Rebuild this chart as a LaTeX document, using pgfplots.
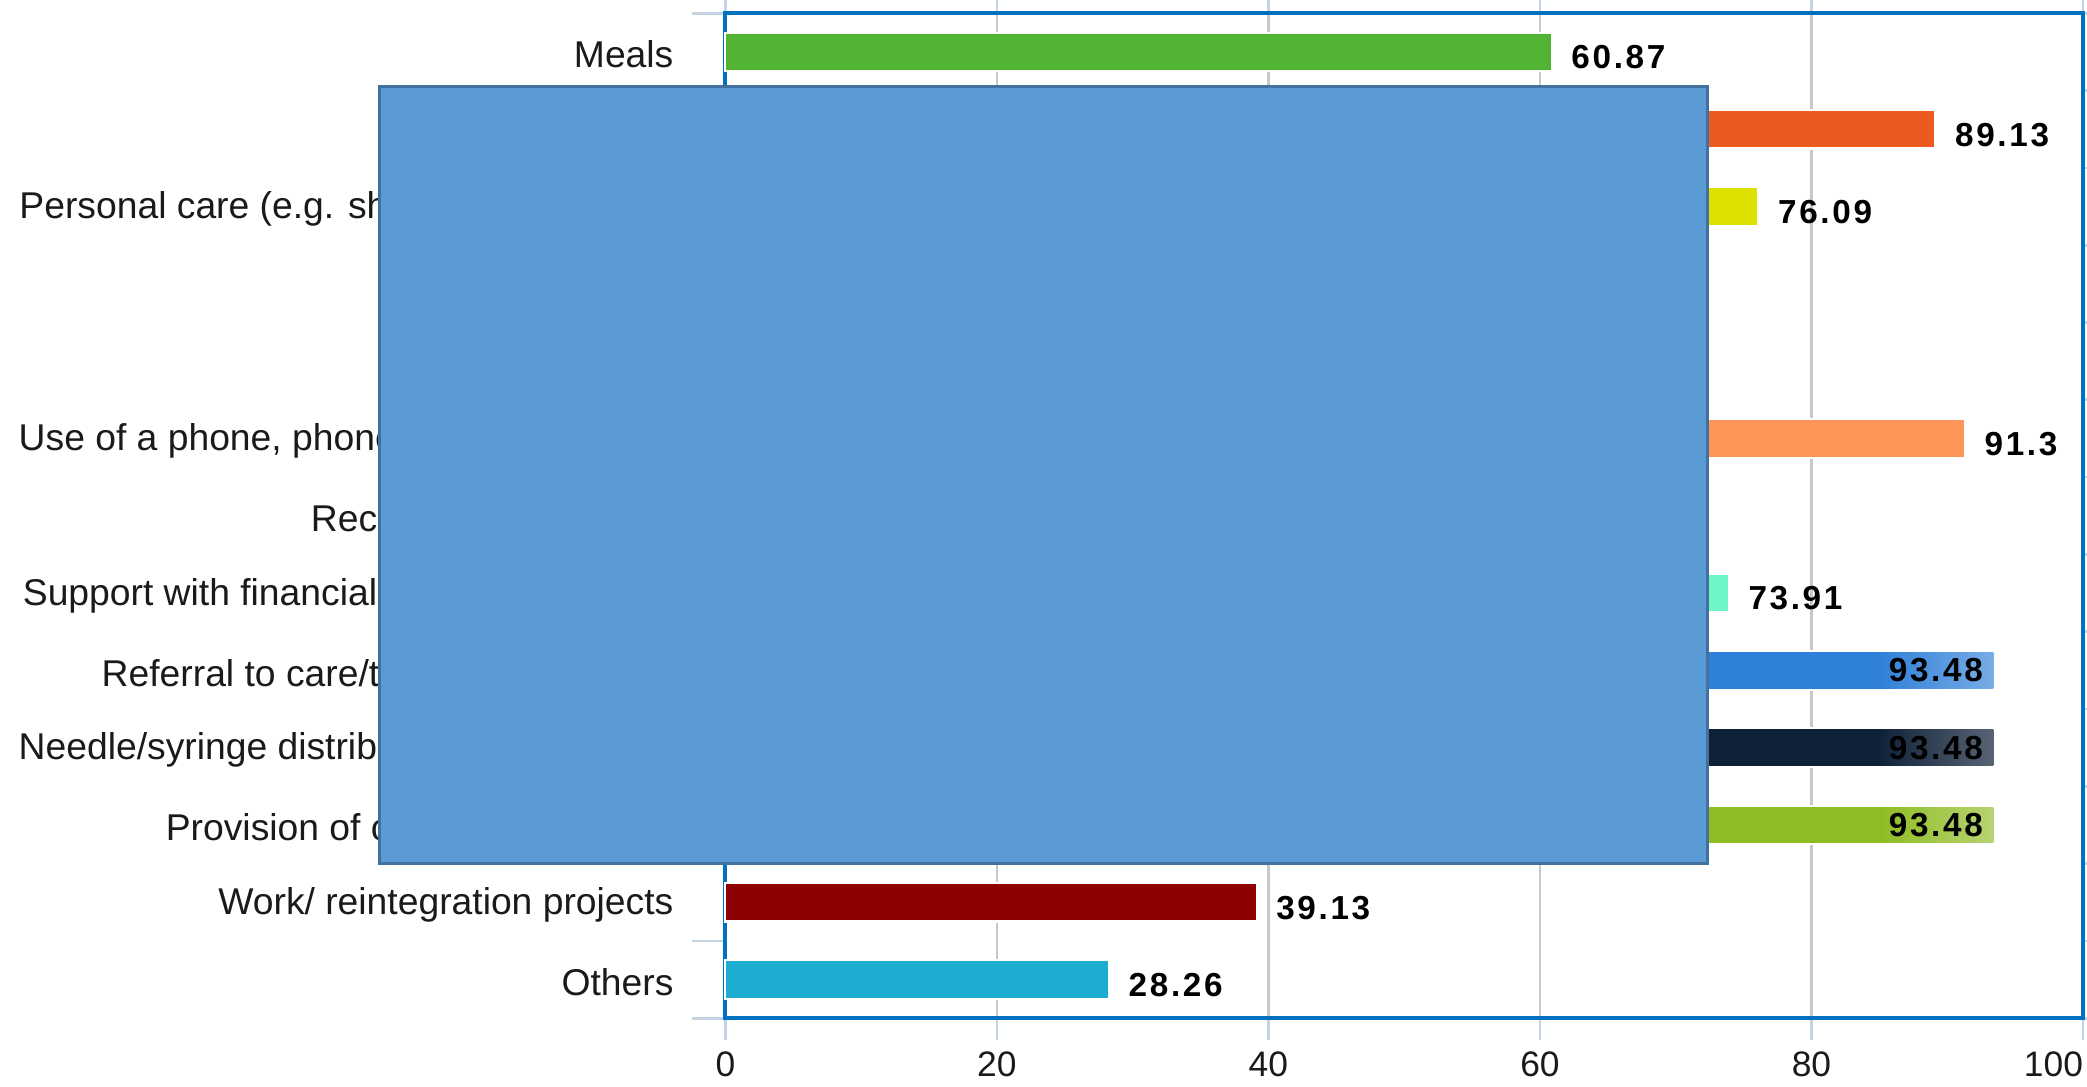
\documentclass[border=0pt]{standalone}
\usepackage{pgfplots}
\pgfplotsset{compat=1.18}
\usepackage{fontspec}
\setmainfont{Liberation Sans}
\newfontfamily\valfont{Liberation Sans}[LetterSpace=8]
\definecolor{frameblue}{HTML}{0070C0}
\definecolor{gridgray}{HTML}{C8C8C8}
\definecolor{tickblue}{HTML}{C3D3E4}
\definecolor{labelblack}{HTML}{1A1A1A}
\definecolor{rectblue}{HTML}{5B9BD5}
\definecolor{rectedge}{HTML}{41719C}
\definecolor{cA}{HTML}{52B435}
\definecolor{cB}{HTML}{EB5A1E}
\definecolor{cC}{HTML}{DEE000}
\definecolor{cD}{HTML}{7F7F7F}
\definecolor{cE}{HTML}{A05AC8}
\definecolor{cF}{HTML}{FF9558}
\definecolor{cG}{HTML}{C0504D}
\definecolor{cH}{HTML}{6EF5C8}
\definecolor{cI}{HTML}{2F80D8}
\definecolor{cJ}{HTML}{0F2138}
\definecolor{cK}{HTML}{8FBC24}
\definecolor{cL}{HTML}{8F0000}
\definecolor{cM}{HTML}{1DADD0}
\begin{document}
\begin{tikzpicture}
\begin{axis}[
  scale only axis, width=510pt, height=377.5pt,
  xmin=0, xmax=100, ymin=-0.5, ymax=12.5, y dir=reverse,
  xbar, bar width=14.5pt, bar shift=0pt,
  axis line style={draw=frameblue, line width=1.5pt},
  xmajorgrids, grid style={draw=gridgray, line width=1pt},
  xtick={0,20,40,60,80,100},
  xticklabels={0,20,40,60,80,\llap{100}},
  tick align=outside,
  major tick length=12.5pt,
  xtick style={draw=tickblue, line width=1pt, /pgfplots/major tick length=8pt},
  xticklabel style={font=\fontsize{13.3}{15}\selectfont, text=labelblack, yshift=3.5pt},
  ytick={-0.5,0.5,...,12.5},
  yticklabels={},
  ytick style={draw=tickblue, line width=1pt},
  extra y ticks={0,1,...,12},
  extra y tick labels={Meals,Overnight stay,{Personal care (e.g. showering, laundry)},Clothing,Medical care,{Use of a phone, phone cards, computer},Recreational activities,{Support with financial and legal matters},{Referral to care/treatment services},{Needle/syringe distribution or exchange},{Provision of condoms/lubricant},{Work/ reintegration projects},Others},
  extra y tick style={major tick length=0pt, ytick style={draw=none}, yticklabel style={xshift=-16pt, yshift=-1pt, font=\fontsize{14}{16}\selectfont, text=labelblack}},
  /pgf/number format/assume math mode=true,
  point meta=explicit symbolic,
  nodes near coords={\pgfplotspointmeta},
  every node near coord/.style={anchor=west, xshift=7pt, yshift=-2pt, inner sep=0pt, font=\valfont\bfseries\fontsize{12.5}{14}\selectfont, text=black},
  clip=false,
]
\addplot[fill=cA, draw=white, line width=0.8pt] coordinates {(60.87,0) [60.87]};
\addplot[fill=cB, draw=white, line width=0.8pt] coordinates {(89.13,1) [89.13]};
\addplot[fill=cC, draw=white, line width=0.8pt] coordinates {(76.09,2) [76.09]};
\addplot[fill=cD, draw=white, line width=0.8pt] coordinates {(45,3) [45]};
\addplot[fill=cE, draw=white, line width=0.8pt] coordinates {(52,4) [52]};
\addplot[fill=cF, draw=white, line width=0.8pt] coordinates {(91.3,5) [91.3]};
\addplot[fill=cG, draw=white, line width=0.8pt] coordinates {(35,6) [35]};
\addplot[fill=cH, draw=white, line width=0.8pt] coordinates {(73.91,7) [73.91]};
\addplot[fill=cI, draw=white, line width=0.8pt, every node near coord/.style={anchor=east, inner xsep=4pt, inner ysep=0pt, minimum height=13.4pt, left color=cI, right color=cI!65!white, font=\valfont\bfseries\fontsize{12.5}{14}\selectfont, text=black}] coordinates {(93.48,8) [93.48]};
\addplot[fill=cJ, draw=white, line width=0.8pt, every node near coord/.style={anchor=east, inner xsep=4pt, inner ysep=0pt, minimum height=13.4pt, left color=cJ, right color=cJ!70!white, font=\valfont\bfseries\fontsize{12.5}{14}\selectfont, text=black}] coordinates {(93.48,9) [93.48]};
\addplot[fill=cK, draw=white, line width=0.8pt, every node near coord/.style={anchor=east, inner xsep=4pt, inner ysep=0pt, minimum height=13.4pt, left color=cK, right color=cK!65!white, font=\valfont\bfseries\fontsize{12.5}{14}\selectfont, text=black}] coordinates {(93.48,10) [93.48]};
\addplot[fill=cL, draw=white, line width=0.8pt] coordinates {(39.13,11) [39.13]};
\addplot[fill=cM, draw=white, line width=0.8pt] coordinates {(28.26,12) [28.26]};
\coordinate (R1) at (axis cs:-25.5,0.45);
\coordinate (R2) at (axis cs:72.35,10.5);
\end{axis}
\draw[fill=rectblue, draw=rectedge, line width=1pt] (R1) rectangle (R2);
\pgfresetboundingbox
\path[use as bounding box] ([xshift=-272.5pt,yshift=-25.5pt]current axis.south west) rectangle ([xshift=1.5pt,yshift=5pt]current axis.north east);
\end{tikzpicture}
\end{document}
